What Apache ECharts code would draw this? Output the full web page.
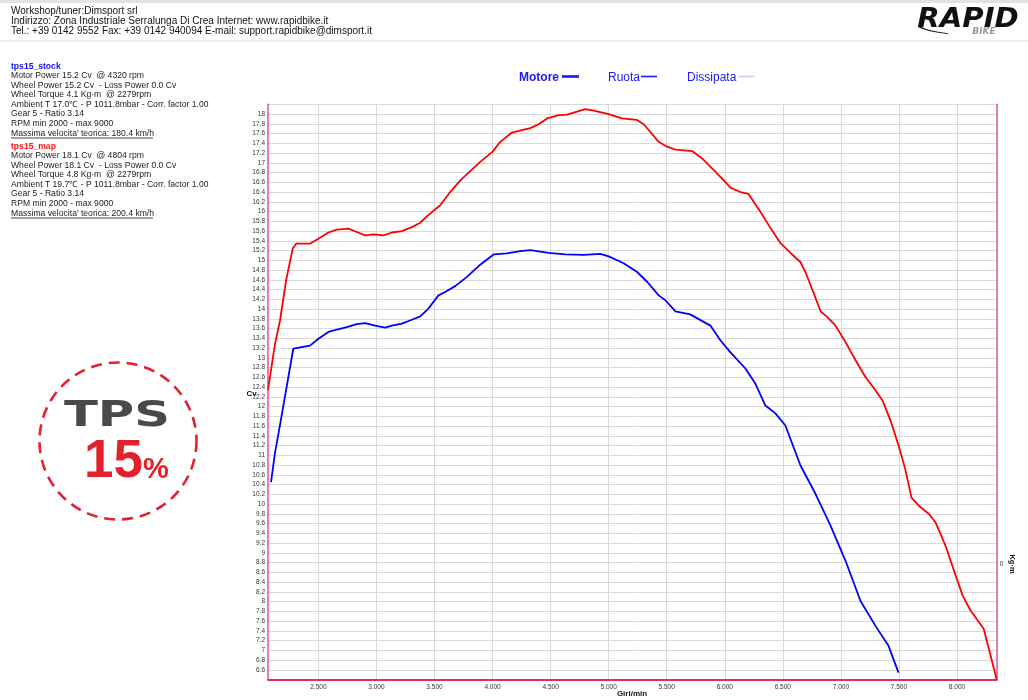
<!DOCTYPE html>
<html><head><meta charset="utf-8">
<script src="https://cdn.jsdelivr.net/npm/echarts@6/dist/echarts.min.js"></script>
<style>html,body{margin:0;padding:0;background:#fff}#c{width:1028px;height:700px}</style>
</head><body><div id="c"></div>
<script>
// ---- data ----
const mapRpm = [2066,2127,2170,2222,2279,2308,2428,2500,2586,2659,2759,2831,2903,2974,3060,3133,3219,3305,3377,3434,3549,3635,3722,3808,3894,4000,4066,4167,4253,4325,4397,4469,4569,4641,4727,4799,4871,5000,5115,5244,5302,5431,5503,5575,5719,5805,5905,5991,6049,6135,6204,6308,6394,6480,6567,6653,6696,6757,6826,6877,6954,7040,7126,7213,7299,7359,7428,7497,7557,7608,7669,7756,7816,7902,7989,8049,8118,8230,8342];
const mapCv = [12.34,13.29,13.77,14.59,15.24,15.34,15.34,15.44,15.57,15.63,15.65,15.58,15.51,15.53,15.51,15.57,15.60,15.68,15.77,15.90,16.13,16.40,16.64,16.83,17.02,17.23,17.43,17.62,17.67,17.71,17.79,17.91,17.98,17.99,18.05,18.10,18.07,18.00,17.91,17.88,17.79,17.43,17.33,17.27,17.24,17.09,16.85,16.64,16.49,16.40,16.36,15.99,15.66,15.35,15.15,14.96,14.75,14.38,13.95,13.85,13.66,13.32,12.95,12.60,12.33,12.12,11.71,11.20,10.69,10.13,9.97,9.80,9.62,9.14,8.53,8.12,7.81,7.44,6.40];
const stockRpm = [2092,2127,2176,2284,2299,2428,2500,2586,2659,2745,2831,2903,2989,3075,3133,3219,3305,3377,3448,3534,3592,3678,3779,3894,4009,4124,4239,4325,4483,4627,4784,4928,5000,5129,5245,5331,5431,5489,5575,5703,5876,5962,6049,6178,6263,6350,6436,6522,6652,6781,6910,7039,7169,7298,7410,7496];
const stockCv = [10.45,11.06,11.71,13.19,13.22,13.25,13.39,13.53,13.58,13.63,13.69,13.71,13.66,13.62,13.66,13.70,13.78,13.85,14.01,14.28,14.35,14.47,14.66,14.91,15.12,15.14,15.19,15.21,15.15,15.12,15.11,15.13,15.08,14.94,14.76,14.56,14.28,14.18,13.95,13.89,13.66,13.36,13.11,12.78,12.47,12.02,11.86,11.61,10.79,10.21,9.56,8.84,8.01,7.50,7.09,6.54];
const xTickValues = [2500,3000,3500,4000,4500,5000,5500,6000,6500,7000,7500,8000];
const xTickLabels = ['2.500','3.000','3.500','4.000','4.500','5.000','5.500','6.000','6.500','7.000','7.500','8.000'];
const torqueTicks = [0];
const headerLines = ['Workshop/tuner:Dimsport srl','Indirizzo: Zona Industriale Serralunga Di Crea Internet: www.rapidbike.it','Tel.: +39 0142 9552 Fax: +39 0142 940094 E-mail: support.rapidbike@dimsport.it'];
const stockTitle = 'tps15_stock';
const stockInfo = ['Motor Power 15.2 Cv  @ 4320 rpm','Wheel Power 15.2 Cv  - Loss Power 0.0 Cv','Wheel Torque 4.1 Kg\u00b7m  @ 2279rpm','Ambient T 17.0\u2103 - P 1011.8mbar - Corr. factor 1.00','Gear 5 - Ratio 3.14','RPM min 2000 - max 9000','Massima velocita\' teorica: 180.4 km/h'];
const mapTitle = 'tps15_map';
const mapInfo = ['Motor Power 18.1 Cv  @ 4804 rpm','Wheel Power 18.1 Cv  - Loss Power 0.0 Cv','Wheel Torque 4.8 Kg\u00b7m  @ 2279rpm','Ambient T 19.7\u2103 - P 1011.8mbar - Corr. factor 1.00','Gear 5 - Ratio 3.14','RPM min 2000 - max 9000','Massima velocita\' teorica: 200.4 km/h'];
const legendNames = ['Motore','Ruota','Dissipata'];
const xAxisName = 'Giri/min';
const yAxisName = 'Cv';
const y2AxisName = 'Kg\u00b7m';

// ---- build ----
const FONT = 'Arial, "Liberation Sans", sans-serif';
const zip = (a, b) => a.map((v, i) => [v, b[i]]);
const g = [];
g.push({type:'rect', shape:{x:0,y:0,width:1028,height:3}, style:{fill:'#e2e2e2'}, silent:true});
g.push({type:'rect', shape:{x:0,y:40,width:1028,height:2}, style:{fill:'#ececec'}, silent:true});
const hy = [11, 21, 31];
headerLines.forEach((t, i) => g.push({type:'text', x:11, y:hy[i], style:{text:t, font:'10px ' + FONT, fill:'#111', align:'left', verticalAlign:'middle'}}));
// logo
g.push({type:'text', x:968, y:20, scaleX:1.12, style:{text:'RAPID', font:'italic 900 26px "DejaVu Sans"', fill:'#111', align:'center', verticalAlign:'middle'}});
g.push({type:'text', x:984, y:32, style:{text:'BIKE', font:'italic bold 9px "DejaVu Sans"', fill:'#9a9a9a', align:'center', verticalAlign:'middle'}});
g.push({type:'arc', shape:{cx:968, cy:21, r:54, startAngle:Math.PI*0.62, endAngle:Math.PI*0.86}, scaleY:0.25, originX:968, originY:21, style:{stroke:'#222', lineWidth:3, fill:'none'}});
// info panel
const infoY1 = [76, 85.3, 95, 104.7, 114, 123.3, 133.3];
const infoY2 = [156, 165.3, 175, 184.7, 193.7, 203.3, 213.3];
g.push({type:'text', x:11, y:66.7, style:{text:stockTitle, font:'bold 8.6px ' + FONT, fill:'#1010ff', align:'left', verticalAlign:'middle'}});
stockInfo.forEach((t, i) => g.push({type:'text', x:11, y:infoY1[i], style:{text:t, font:'8.6px ' + FONT, fill:'#222', align:'left', verticalAlign:'middle'}}));
g.push({type:'text', x:11, y:146.7, style:{text:mapTitle, font:'bold 8.6px ' + FONT, fill:'#ff1414', align:'left', verticalAlign:'middle'}});
mapInfo.forEach((t, i) => g.push({type:'text', x:11, y:infoY2[i], style:{text:t, font:'8.6px ' + FONT, fill:'#222', align:'left', verticalAlign:'middle'}}));
g.push({type:'line', shape:{x1:11,y1:138,x2:153,y2:138}, style:{stroke:'#444', lineWidth:1}});
g.push({type:'line', shape:{x1:11,y1:218,x2:153,y2:218}, style:{stroke:'#444', lineWidth:1}});
// legend
const legX = [519, 608, 687];
const legLine = [[562,579,2.6,'#1a1aff'],[641,657,1.6,'#1a1aff'],[739,754,1.6,'#c9c9ff']];
legendNames.forEach((t, i) => {
  g.push({type:'text', x:legX[i], y:77.5, style:{text:t, font:(i===0?'bold ':'') + '12px ' + FONT, fill:'#1a1aff', align:'left', verticalAlign:'middle'}});
  g.push({type:'line', shape:{x1:legLine[i][0], y1:76.5, x2:legLine[i][1], y2:76.5}, style:{stroke:legLine[i][3], lineWidth:legLine[i][2]}});
});
// axis names
g.push({type:'text', x:246.5, y:393.5, style:{text:yAxisName, font:'bold 8px ' + FONT, fill:'#111', align:'left', verticalAlign:'middle'}});
g.push({type:'text', x:1012, y:564, rotation:-Math.PI/2, style:{text:y2AxisName, font:'bold 7.5px ' + FONT, fill:'#111', align:'center', verticalAlign:'middle'}});
g.push({type:'text', x:632, y:694, style:{text:xAxisName, font:'bold 8px ' + FONT, fill:'#111', align:'center', verticalAlign:'middle'}});
// TPS badge
g.push({type:'circle', shape:{cx:118, cy:441, r:78.5}, style:{fill:'none', stroke:'#e3202b', lineWidth:2.6, lineDash:[11,7]}});
g.push({type:'text', x:117, y:417, scaleX:1.42, style:{text:'TPS', font:'bold 35px "DejaVu Sans"', fill:'#4a4848', align:'center', verticalAlign:'middle'}});
g.push({type:'text', x:84, y:462, style:{text:'15', font:'bold 53px ' + FONT, fill:'#e3202b', align:'left', verticalAlign:'middle'}});
g.push({type:'text', x:143, y:470, style:{text:'%', font:'bold 29px ' + FONT, fill:'#e3202b', align:'left', verticalAlign:'middle'}});

const chart = echarts.init(document.getElementById('c'), null, {renderer:'canvas'});
chart.setOption({
  backgroundColor:'#ffffff',
  animation:false,
  grid:{left:268, right:31.3, top:104.3, bottom:20.5, containLabel:false, outerBoundsMode:'none'},
  xAxis:{
    type:'value', min:2066, max:8342,
    axisLine:{show:true, onZero:false, lineStyle:{color:'#e02a72', width:2}},
    axisTick:{show:false, customValues:xTickValues},
    axisLabel:{customValues:xTickValues, formatter:v => xTickLabels[xTickValues.indexOf(v)], fontFamily:FONT, fontSize:6.5, color:'#333', margin:4},
    splitLine:{show:true, lineStyle:{color:'#d9d9d9', width:1}}
  },
  yAxis:[{
    type:'value', min:6.4, max:18.2, interval:0.2, position:'left',
    axisLine:{show:true, onZero:false, lineStyle:{color:'#e4509c', width:1.5}},
    axisTick:{show:false},
    axisLabel:{showMinLabel:false, showMaxLabel:false, formatter:v => String(+v.toFixed(1)), fontFamily:FONT, fontSize:6.5, color:'#333', margin:3},
    splitLine:{show:true, lineStyle:{color:'#d9d9d9', width:1}}
  },{
    type:'value', min:-1, max:4, position:'right',
    axisLine:{show:true, onZero:false, lineStyle:{color:'#e4509c', width:1.5}},
    axisTick:{show:false, customValues:torqueTicks},
    axisLabel:{customValues:torqueTicks, fontFamily:FONT, fontSize:6.5, color:'#333', margin:3},
    splitLine:{show:false}
  }],
  series:[
    {name:stockTitle, type:'line', data:zip(stockRpm, stockCv), showSymbol:false, lineStyle:{color:'#0000ff', width:1.8}, itemStyle:{color:'#0000ff'}, z:3},
    {name:mapTitle, type:'line', data:zip(mapRpm, mapCv), showSymbol:false, lineStyle:{color:'#ff0000', width:1.8}, itemStyle:{color:'#ff0000'}, z:3}
  ],
  graphic:g
});
</script></body></html>
